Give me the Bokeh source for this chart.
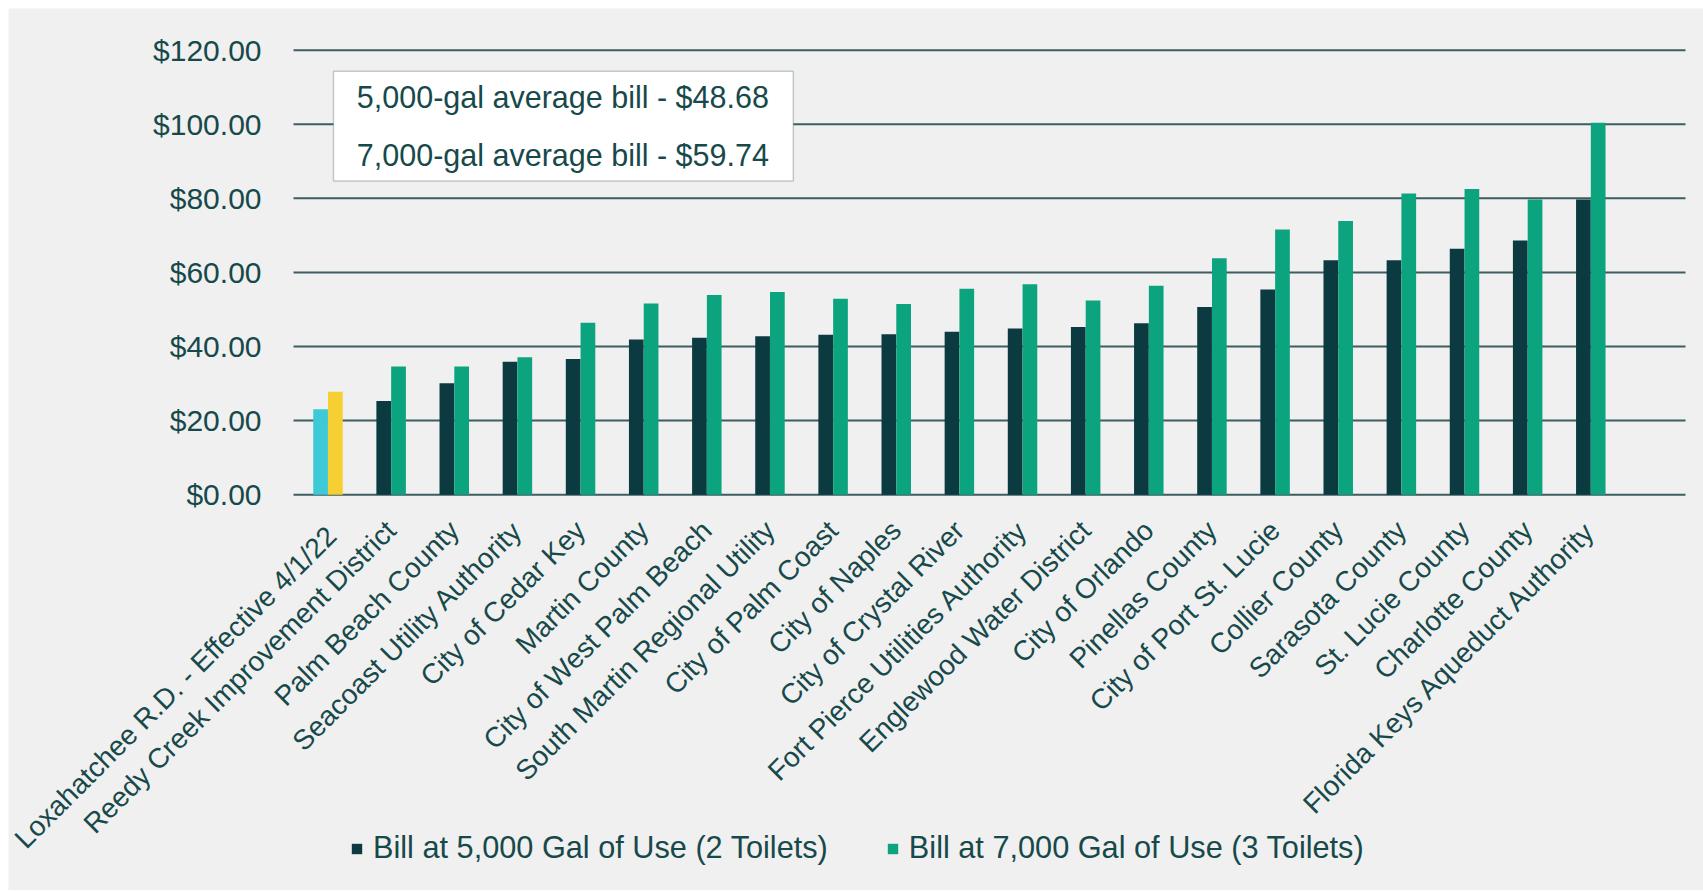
import math
from bokeh.plotting import figure
from bokeh.layouts import column, row
from bokeh.models import (ColumnDataSource, Range1d, FixedTicker, Legend, LegendItem,
                          BoxAnnotation, Label, Spacer)
from bokeh.embed import file_html
from bokeh.resources import INLINE

# ---------------- data ----------------
categories = [
    "Loxahatchee R.D.  - Effective 4/1/22",
    "Reedy Creek Improvement District",
    "Palm Beach County",
    "Seacoast Utility Authority",
    "City of Cedar Key",
    "Martin County",
    "City of West Palm Beach",
    "South Martin Regional Utility",
    "City of Palm Coast",
    "City of Naples",
    "City of Crystal River",
    "Fort Pierce Utilities Authority",
    "Englewood Water District",
    "City of Orlando",
    "Pinellas County",
    "City of Port St. Lucie",
    "Collier County",
    "Sarasota County",
    "St. Lucie County",
    "Charlotte County",
    "Florida Keys Aqueduct Authority",
]
bill_5000 = [23.1, 25.3, 30.1, 35.9, 36.6, 41.9, 42.4, 42.8, 43.2, 43.3, 44.0,
             44.9, 45.3, 46.3, 50.7, 55.4, 63.3, 63.3, 66.4, 68.6, 79.7]
bill_7000 = [27.8, 34.6, 34.6, 37.1, 46.4, 51.6, 53.9, 54.7, 52.9, 51.5, 55.6,
             56.8, 52.4, 56.4, 63.8, 71.6, 73.9, 81.3, 82.5, 79.7, 100.4]
y_ticks = [0, 20, 40, 60, 80, 100, 120]
series_names = ["Bill at 5,000 Gal of Use (2 Toilets)", "Bill at 7,000 Gal of Use (3 Toilets)"]
note_lines = ["5,000-gal average bill - $48.68", "7,000-gal average bill - $59.74"]
highlight = "Loxahatchee R.D.  - Effective 4/1/22"

# ---------------- styling ----------------
BG = "#f0f0f0"
DARK = "#0b3b41"
GREEN = "#0ca37f"
CYAN = "#3ec9d6"
YELLOW = "#f6cf33"
TEXT = "#17494b"
GRID = "#3e5d61"
FONT = "Liberation Sans"
BAR_W = 0.233
OFF = 0.117
AREA_L, AREA_R = -0.546, 21.5      # extent of the plotting area (category units)

idx = list(range(len(categories)))
hl = [i for i, c in enumerate(categories) if c == highlight]
rest = [i for i in idx if i not in hl]

def src(ids, vals, off):
    return ColumnDataSource(dict(x=[i + off for i in ids], top=[vals[i] for i in ids]))

# the frame covers the whole canvas; both axes are pinned inside it
p = figure(width=1695, height=882, output_backend="svg", toolbar_location=None,
           x_range=Range1d(-5.06, 21.785), y_range=Range1d(-106.86, 131.26),
           min_border_left=0, min_border_right=0, min_border_top=0, min_border_bottom=0)
p.background_fill_color = BG
p.border_fill_color = BG
p.outline_line_color = None

# horizontal gridlines limited to the plotting area
p.segment(x0=AREA_L, x1=AREA_R, y0=y_ticks, y1=y_ticks, line_color=GRID, line_width=2)

r5 = p.vbar(x="x", top="top", bottom=0, width=BAR_W, source=src(rest, bill_5000, -OFF),
            fill_color=DARK, line_color=None)
r7 = p.vbar(x="x", top="top", bottom=0, width=BAR_W, source=src(rest, bill_7000, OFF),
            fill_color=GREEN, line_color=None)
p.vbar(x="x", top="top", bottom=0, width=BAR_W, source=src(hl, bill_5000, -OFF),
       fill_color=CYAN, line_color=None)
p.vbar(x="x", top="top", bottom=0, width=BAR_W, source=src(hl, bill_7000, OFF),
       fill_color=YELLOW, line_color=None)

# axes
p.xaxis.fixed_location = 0
p.xaxis.ticker = FixedTicker(ticks=idx)
p.xaxis.major_label_overrides = {i: c for i, c in enumerate(categories)}
p.xaxis.major_label_orientation = math.pi / 4
p.xaxis.major_label_text_font = FONT
p.xaxis.major_label_text_font_size = "28px"
p.xaxis.major_label_text_color = TEXT
p.xaxis.major_label_standoff = 25
p.xaxis.axis_line_color = None
p.xaxis.major_tick_line_color = None
p.xaxis.minor_tick_line_color = None

p.yaxis.fixed_location = AREA_L
p.yaxis.ticker = FixedTicker(ticks=y_ticks)
p.yaxis.major_label_overrides = {v: "${:.2f}".format(v) for v in y_ticks}
p.yaxis.major_label_text_font = FONT
p.yaxis.major_label_text_font_size = "30px"
p.yaxis.major_label_text_color = TEXT
p.yaxis.major_label_standoff = 26
p.yaxis.axis_line_color = None
p.yaxis.major_tick_line_color = None
p.yaxis.minor_tick_line_color = None

p.xgrid.grid_line_color = None
p.ygrid.grid_line_color = None

# note box
box = BoxAnnotation(left=0.087, right=7.37, bottom=84.7, top=114.3,
                    fill_color="white", fill_alpha=1.0, line_color=GRID, line_width=1.5)
p.add_layout(box)
for yv, t in zip([107.4, 91.6], note_lines):
    p.add_layout(Label(x=3.72, y=yv, text=t, text_align="center", text_baseline="middle",
                       text_font=FONT, text_font_size="30.5px", text_color=TEXT))

legend = Legend(items=[LegendItem(label=series_names[0], renderers=[r5]),
                       LegendItem(label=series_names[1], renderers=[r7])],
                location=(342, 24), orientation="horizontal",
                background_fill_alpha=0, border_line_color=None,
                label_text_font=FONT, label_text_font_size="30.7px", label_text_color=TEXT,
                glyph_width=13, glyph_height=13, label_standoff=10, spacing=58,
                padding=0, margin=0)
p.add_layout(legend, "center")

layout = column(Spacer(height=8, width=1703), row(Spacer(width=8, height=882), p))
open("out.html", "w").write(file_html(layout, INLINE))
